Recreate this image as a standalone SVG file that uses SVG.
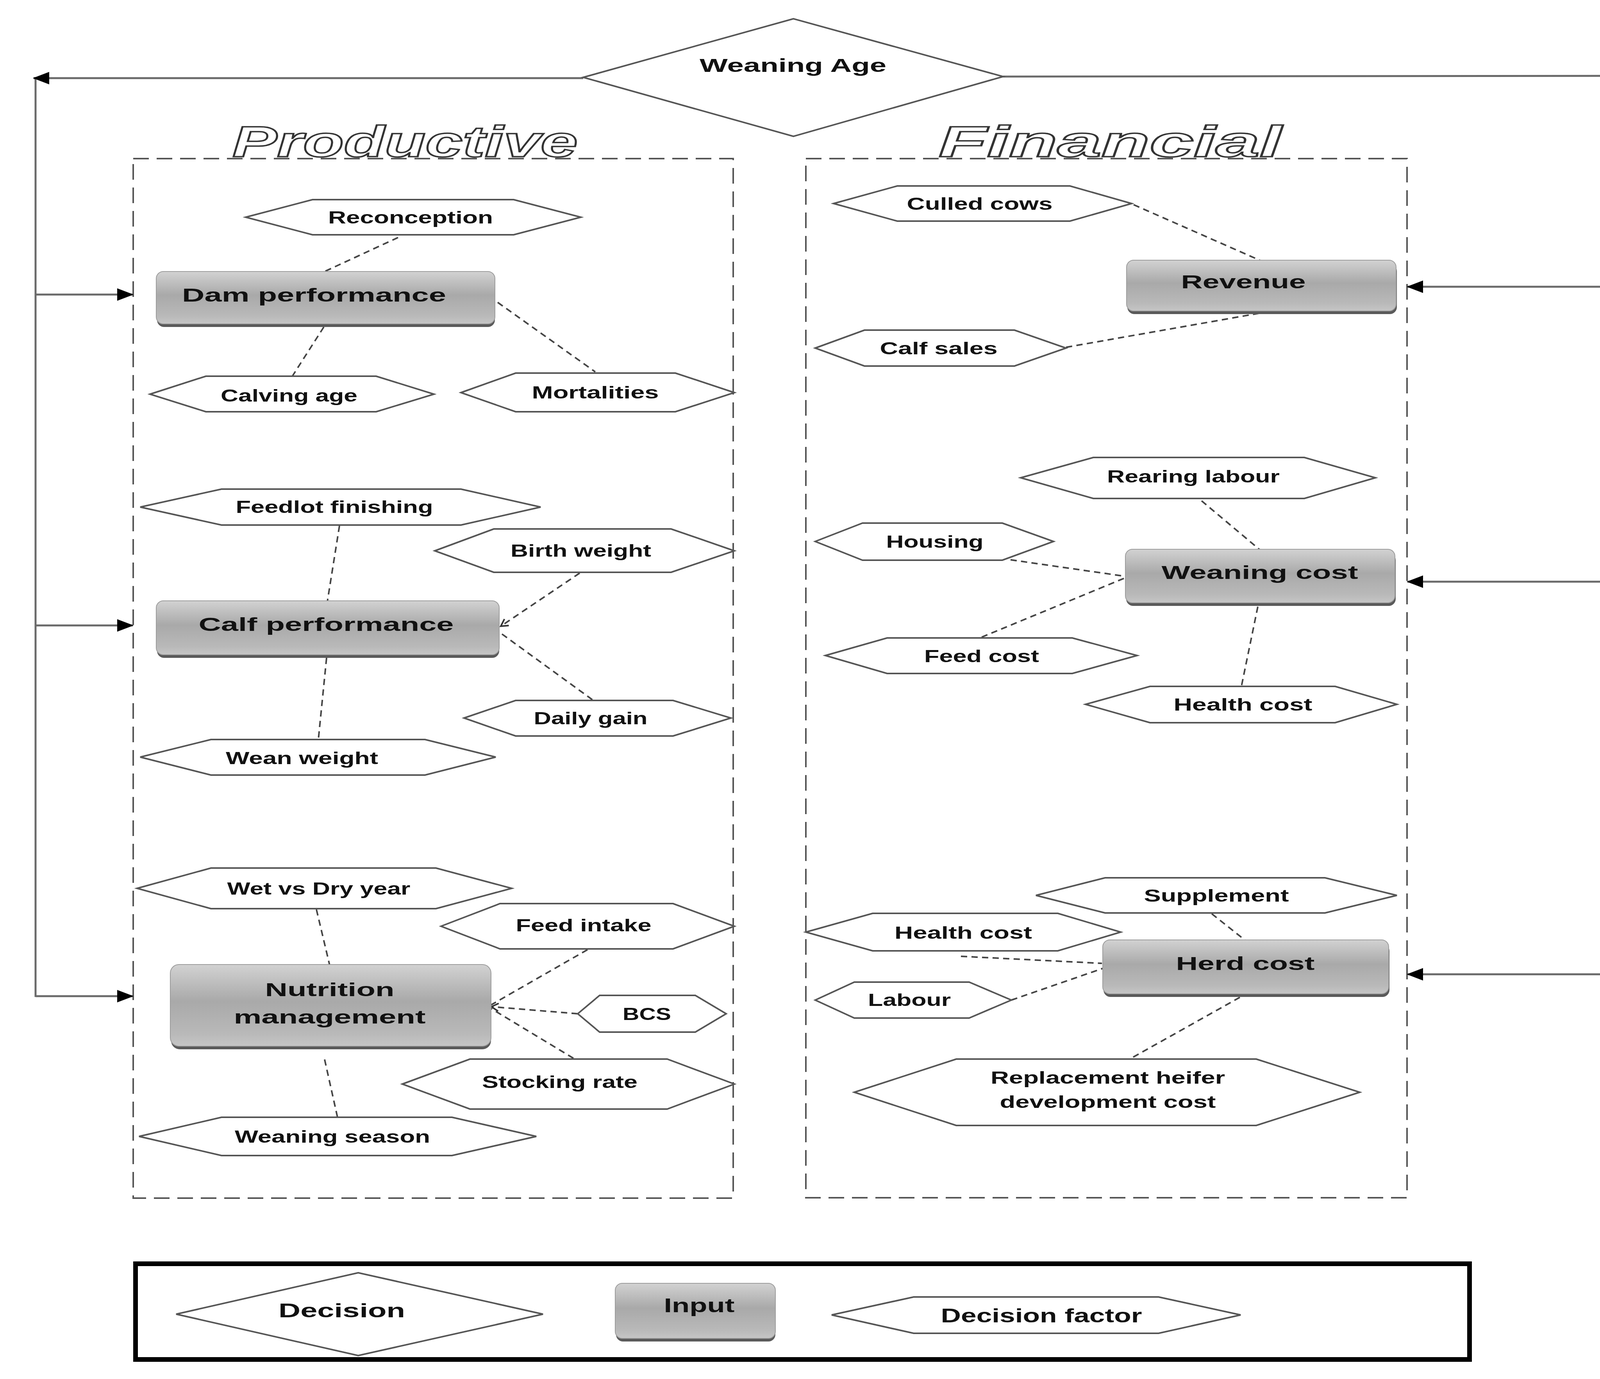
<svg xmlns="http://www.w3.org/2000/svg" width="4257" height="3530" viewBox="0 0 4257 3530">
<defs>
<linearGradient id="gIn" x1="0" y1="0" x2="0" y2="1">
<stop offset="0" stop-color="#d2d2d2"/>
<stop offset="0.45" stop-color="#a9a9a9"/>
<stop offset="0.85" stop-color="#b9b9b9"/>
<stop offset="1" stop-color="#c6c6c6"/>
</linearGradient>
<marker id="arr" markerUnits="userSpaceOnUse" markerWidth="44" markerHeight="32" refX="40" refY="16" orient="auto">
<path d="M0,0 L42,16 L0,32 Z" fill="#000"/>
</marker>
<marker id="chev" markerUnits="userSpaceOnUse" markerWidth="24" markerHeight="24" refX="20" refY="12" orient="auto">
<path d="M2,2 L20,12 L2,22" fill="none" stroke="#333" stroke-width="4"/>
</marker>
</defs>
<style>
.hex{fill:#fff;stroke:#555;stroke-width:4;stroke-linejoin:miter}
.dia{fill:#fff;stroke:#555;stroke-width:4}
.inp{fill:url(#gIn);stroke:#9c9c9c;stroke-width:2}
.sh{fill:#5a5a5a}
.lbl{font-family:"Liberation Sans",Arial,sans-serif;font-weight:bold;font-size:45px;fill:#111;text-anchor:middle}
.ilbl{font-family:"Liberation Sans",Arial,sans-serif;font-weight:bold;font-size:48px;fill:#111;text-anchor:middle}
.title{font-family:"Liberation Sans",Arial,sans-serif;font-weight:bold;font-style:italic;font-size:112px;fill:#fff;stroke:#333;stroke-width:3.5;text-anchor:middle}
.area{fill:none;stroke:#555;stroke-width:4;stroke-dasharray:40 20}
.flow{fill:none;stroke:#6a6a6a;stroke-width:5}
.dash{fill:none;stroke:#444;stroke-width:4;stroke-dasharray:16 11}
</style>
<rect width="4257" height="3530" fill="#fff"/>

<g id="areas">
<rect class="area" x="341" y="406" width="1536" height="2661"/>
<rect class="area" x="2063" y="406" width="1539" height="2660"/>
<text class="title" x="1037" y="401" textLength="884" lengthAdjust="spacingAndGlyphs">Productive</text>
<text class="title" x="2842" y="401" textLength="878" lengthAdjust="spacingAndGlyphs">Financial</text>
</g>

<g id="connectors">
<polyline class="flow" points="1493,200 86,200"/>
<line class="flow" x1="91" y1="198" x2="91" y2="2552"/>
<line class="flow" x1="91" y1="754" x2="340" y2="754" marker-end="url(#arr)"/>
<line class="flow" x1="91" y1="1601" x2="340" y2="1601" marker-end="url(#arr)"/>
<line class="flow" x1="91" y1="2550" x2="340" y2="2550" marker-end="url(#arr)"/>
<line class="flow" x1="91" y1="200" x2="86" y2="200" marker-end="url(#arr)"/>
<line class="flow" x1="2568" y1="196" x2="4194" y2="194" marker-end="url(#arr)"/>
<line class="flow" x1="4196" y1="192" x2="4196" y2="2496" style="stroke-width:7"/>
<line class="flow" x1="4196" y1="734" x2="3603" y2="734" marker-end="url(#arr)"/>
<line class="flow" x1="4196" y1="1489" x2="3603" y2="1489" marker-end="url(#arr)"/>
<line class="flow" x1="4196" y1="2494" x2="3603" y2="2494" marker-end="url(#arr)"/>

<line class="dash" x1="1019" y1="608" x2="831" y2="695"/>
<line class="dash" x1="829" y1="837" x2="749" y2="962"/>
<line class="dash" x1="1274" y1="774" x2="1524" y2="952"/>
<line class="dash" x1="869" y1="1346" x2="838" y2="1540"/>
<line class="dash" x1="1484" y1="1467" x2="1282" y2="1603" marker-end="url(#chev)"/>
<line class="dash" x1="1285" y1="1623" x2="1519" y2="1793"/>
<line class="dash" x1="836" y1="1684" x2="815" y2="1893"/>
<line class="dash" x1="810" y1="2328" x2="844" y2="2471"/>
<line class="dash" x1="1504" y1="2431" x2="1256" y2="2573"/>
<line class="dash" x1="1479" y1="2595" x2="1258" y2="2577" marker-end="url(#chev)"/>
<line class="dash" x1="1468" y1="2709" x2="1256" y2="2581"/>
<line class="dash" x1="831" y1="2712" x2="864" y2="2860"/>
<line class="dash" x1="2902" y1="524" x2="3229" y2="668"/>
<line class="dash" x1="2729" y1="889" x2="3223" y2="802"/>
<line class="dash" x1="3076" y1="1282" x2="3226" y2="1408"/>
<line class="dash" x1="2587" y1="1433" x2="2879" y2="1475"/>
<line class="dash" x1="2513" y1="1631" x2="2881" y2="1479"/>
<line class="dash" x1="3220" y1="1553" x2="3178" y2="1757"/>
<line class="dash" x1="3102" y1="2339" x2="3189" y2="2408"/>
<line class="dash" x1="2460" y1="2448" x2="2821" y2="2466"/>
<line class="dash" x1="2589" y1="2560" x2="2823" y2="2479"/>
<line class="dash" x1="3174" y1="2553" x2="2892" y2="2711"/>
</g>

<g id="weaning-age">
<polygon class="dia" points="1493,198 2031,48 2568,196 2031,349"/>
<text class="ilbl" x="2030" y="184" style="font-size:49px" textLength="478" lengthAdjust="spacingAndGlyphs">Weaning Age</text>
</g>

<g id="dam-performance">
<rect class="sh" x="402" y="705" width="865" height="132" rx="18"/>
<rect class="inp" x="400" y="695" width="867" height="134" rx="18"/>
<text class="ilbl" x="804" y="772" textLength="676" lengthAdjust="spacingAndGlyphs">Dam performance</text>
</g>
<g id="calf-performance">
<rect class="sh" x="402" y="1548" width="876" height="136" rx="18"/>
<rect class="inp" x="400" y="1538" width="878" height="138" rx="18"/>
<text class="ilbl" x="835" y="1615" textLength="653" lengthAdjust="spacingAndGlyphs">Calf performance</text>
</g>
<g id="nutrition-management">
<rect class="sh" x="438" y="2479" width="819" height="207" rx="22"/>
<rect class="inp" x="436" y="2469" width="821" height="209" rx="22"/>
<text class="ilbl" x="844" y="2550" textLength="331" lengthAdjust="spacingAndGlyphs">Nutrition</text>
<text class="ilbl" x="844" y="2620" textLength="491" lengthAdjust="spacingAndGlyphs">management</text>
</g>
<g id="revenue">
<rect class="sh" x="2886" y="676" width="690" height="128" rx="18"/>
<rect class="inp" x="2884" y="666" width="690" height="130" rx="18"/>
<text class="ilbl" x="3183" y="738" textLength="319" lengthAdjust="spacingAndGlyphs">Revenue</text>
</g>
<g id="weaning-cost">
<rect class="sh" x="2883" y="1416" width="690" height="135" rx="18"/>
<rect class="inp" x="2881" y="1406" width="690" height="137" rx="18"/>
<text class="ilbl" x="3225" y="1482" textLength="503" lengthAdjust="spacingAndGlyphs">Weaning cost</text>
</g>
<g id="herd-cost">
<rect class="sh" x="2825" y="2416" width="732" height="136" rx="18"/>
<rect class="inp" x="2823" y="2406" width="732" height="138" rx="18"/>
<text class="ilbl" x="3188" y="2483" textLength="355" lengthAdjust="spacingAndGlyphs">Herd cost</text>
</g>

<g id="reconception"><polygon class="hex" points="629,556 800,511 1315,511 1487,556 1315,601 800,601"/><text class="lbl" x="1051" y="572" textLength="422" lengthAdjust="spacingAndGlyphs">Reconception</text></g>
<g id="calving-age"><polygon class="hex" points="384,1009 527,963 963,963 1111,1009 963,1054 527,1054"/><text class="lbl" x="740" y="1028" textLength="350" lengthAdjust="spacingAndGlyphs">Calving age</text></g>
<g id="mortalities"><polygon class="hex" points="1180,1005 1320,955 1729,955 1880,1005 1729,1054 1320,1054"/><text class="lbl" x="1524" y="1020" textLength="325" lengthAdjust="spacingAndGlyphs">Mortalities</text></g>
<g id="feedlot-finishing"><polygon class="hex" points="359,1298 567,1252 1180,1252 1384,1298 1180,1344 567,1344"/><text class="lbl" x="856" y="1313" textLength="505" lengthAdjust="spacingAndGlyphs">Feedlot finishing</text></g>
<g id="birth-weight"><polygon class="hex" points="1113,1410 1264,1354 1718,1354 1880,1410 1718,1465 1264,1465"/><text class="lbl" x="1487" y="1425" textLength="360" lengthAdjust="spacingAndGlyphs">Birth weight</text></g>
<g id="daily-gain"><polygon class="hex" points="1188,1838 1320,1793 1723,1793 1871,1838 1723,1884 1320,1884"/><text class="lbl" x="1512" y="1854" textLength="291" lengthAdjust="spacingAndGlyphs">Daily gain</text></g>
<g id="wean-weight"><polygon class="hex" points="359,1938 540,1893 1088,1893 1269,1938 1088,1984 540,1984"/><text class="lbl" x="773" y="1956" textLength="390" lengthAdjust="spacingAndGlyphs">Wean weight</text></g>
<g id="wet-vs-dry-year"><polygon class="hex" points="351,2274 540,2222 1116,2222 1310,2274 1116,2326 540,2326"/><text class="lbl" x="816" y="2290" textLength="469" lengthAdjust="spacingAndGlyphs">Wet vs Dry year</text></g>
<g id="feed-intake"><polygon class="hex" points="1129,2371 1280,2313 1723,2313 1880,2371 1723,2429 1280,2429"/><text class="lbl" x="1494" y="2384" textLength="347" lengthAdjust="spacingAndGlyphs">Feed intake</text></g>
<g id="bcs"><polygon class="hex" points="1479,2595 1535,2548 1780,2548 1859,2595 1780,2642 1535,2642"/><text class="lbl" x="1656" y="2611" textLength="124" lengthAdjust="spacingAndGlyphs">BCS</text></g>
<g id="stocking-rate"><polygon class="hex" points="1030,2775 1203,2711 1708,2711 1880,2775 1708,2839 1203,2839"/><text class="lbl" x="1433" y="2785" textLength="398" lengthAdjust="spacingAndGlyphs">Stocking rate</text></g>
<g id="weaning-season"><polygon class="hex" points="356,2909 567,2860 1157,2860 1373,2909 1157,2958 567,2958"/><text class="lbl" x="851" y="2925" textLength="500" lengthAdjust="spacingAndGlyphs">Weaning season</text></g>

<g id="culled-cows"><polygon class="hex" points="2134,521 2297,476 2739,476 2897,521 2739,566 2297,566"/><text class="lbl" x="2508" y="537" textLength="373" lengthAdjust="spacingAndGlyphs">Culled cows</text></g>
<g id="calf-sales"><polygon class="hex" points="2087,891 2213,845 2597,845 2729,891 2597,937 2213,937"/><text class="lbl" x="2403" y="907" textLength="301" lengthAdjust="spacingAndGlyphs">Calf sales</text></g>
<g id="rearing-labour"><polygon class="hex" points="2613,1223 2799,1171 3339,1171 3521,1223 3339,1276 2799,1276"/><text class="lbl" x="3055" y="1235" textLength="442" lengthAdjust="spacingAndGlyphs">Rearing labour</text></g>
<g id="housing"><polygon class="hex" points="2087,1386 2208,1339 2566,1339 2697,1386 2566,1434 2208,1434"/><text class="lbl" x="2393" y="1402" textLength="249" lengthAdjust="spacingAndGlyphs">Housing</text></g>
<g id="feed-cost"><polygon class="hex" points="2113,1678 2271,1633 2745,1633 2911,1678 2745,1724 2271,1724"/><text class="lbl" x="2513" y="1695" textLength="294" lengthAdjust="spacingAndGlyphs">Feed cost</text></g>
<g id="health-cost-weaning"><polygon class="hex" points="2779,1803 2944,1757 3418,1757 3576,1803 3418,1850 2944,1850"/><text class="lbl" x="3182" y="1819" textLength="355" lengthAdjust="spacingAndGlyphs">Health cost</text></g>
<g id="supplement"><polygon class="hex" points="2652,2292 2829,2247 3392,2247 3576,2292 3392,2337 2829,2337"/><text class="lbl" x="3114" y="2308" textLength="371" lengthAdjust="spacingAndGlyphs">Supplement</text></g>
<g id="health-cost-herd"><polygon class="hex" points="2063,2386 2234,2338 2708,2338 2869,2386 2708,2434 2234,2434"/><text class="lbl" x="2466" y="2403" textLength="352" lengthAdjust="spacingAndGlyphs">Health cost</text></g>
<g id="labour"><polygon class="hex" points="2087,2560 2187,2514 2481,2514 2589,2560 2481,2606 2187,2606"/><text class="lbl" x="2328" y="2575" textLength="212" lengthAdjust="spacingAndGlyphs">Labour</text></g>
<g id="replacement-heifer"><polygon class="hex" points="2187,2796 2448,2711 3216,2711 3481,2796 3216,2881 2448,2881"/>
<text class="lbl" x="2836" y="2774" textLength="600" lengthAdjust="spacingAndGlyphs">Replacement heifer</text>
<text class="lbl" x="2836" y="2836" textLength="553" lengthAdjust="spacingAndGlyphs">development cost</text></g>

<g id="legend">
<rect x="347" y="3235" width="3415" height="245" fill="none" stroke="#000" stroke-width="12"/>
<g id="legend-decision"><polygon class="dia" points="451,3364 917,3258 1390,3364 917,3470"/><text class="ilbl" x="875" y="3372" style="font-size:50px" textLength="324" lengthAdjust="spacingAndGlyphs">Decision</text></g>
<g id="legend-input"><rect class="sh" x="1577" y="3295" width="408" height="139" rx="18"/><rect class="inp" x="1575" y="3285" width="410" height="141" rx="18"/><text class="ilbl" x="1790" y="3359" style="font-size:50px" textLength="181" lengthAdjust="spacingAndGlyphs">Input</text></g>
<g id="legend-factor"><polygon class="hex" points="2129,3366 2339,3320 2966,3320 3176,3366 2966,3413 2339,3413"/><text class="ilbl" x="2666" y="3385" style="font-size:50px" textLength="515" lengthAdjust="spacingAndGlyphs">Decision factor</text></g>
</g>
</svg>
